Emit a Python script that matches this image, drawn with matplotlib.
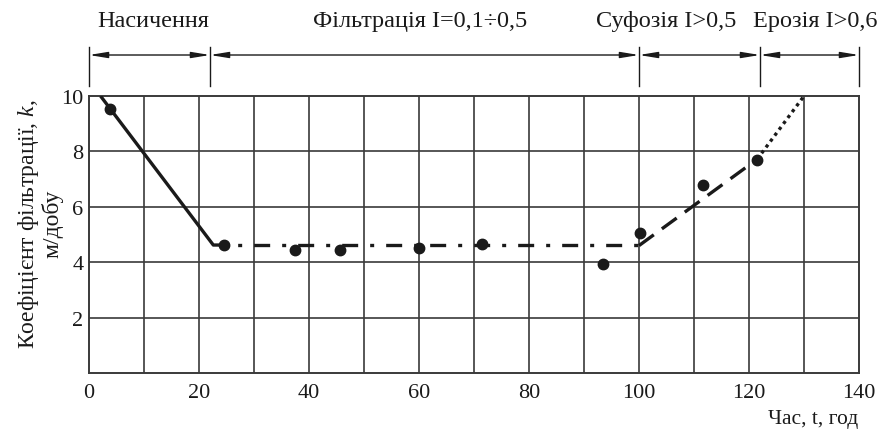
import matplotlib
matplotlib.use('Agg')
import matplotlib.pyplot as plt

plt.rcParams['font.family'] = ['Liberation Serif', 'DejaVu Serif']
plt.rcParams['mathtext.fontset'] = 'custom'
plt.rcParams['mathtext.it'] = 'Liberation Serif:italic'
plt.rcParams['mathtext.rm'] = 'Liberation Serif'

# data
sat_x = [2.1, 22.6, 24.4]
sat_y = [10.0, 4.62, 4.62]
filt_x = [24.4, 100.0]
filt_y = [4.62, 4.62]
suf_x = [100.0, 121.5]
suf_y = [4.6, 7.72]
ero_x = [121.5, 130.0]
ero_y = [7.72, 10.0]

pts_x = [3.9, 24.5, 37.5, 45.7, 60.0, 71.4, 93.4, 100.1, 111.7, 121.5]
pts_y = [9.52, 4.63, 4.45, 4.45, 4.5, 4.65, 3.93, 5.05, 6.78, 7.69]

stage_bounds = [0, 22, 100, 122, 140]
stage_labels = ['Насичення', 'Фільтрація I=0,1÷0,5', 'Суфозія I>0,5', 'Ерозія I>0,6']
stage_label_x = [11.6, 60.2, 105.0, 132.0]

fig = plt.figure(figsize=(8.82, 4.35), dpi=100)
ax = fig.add_axes([89/882, 1 - 374/435, 770/882, 277/435])

grid_c = '#3a3a3a'
for x in range(10, 140, 10):
    ax.axvline(x, color=grid_c, lw=1.2, zorder=1)
for y in range(2, 10, 2):
    ax.axhline(y, color=grid_c, lw=1.2, zorder=1)
for s in ax.spines.values():
    s.set_color(grid_c)
    s.set_linewidth(1.4)

lc = '#1a1a1a'
ax.plot(sat_x, sat_y, color=lc, lw=2.4, solid_capstyle='butt', zorder=3)
ax.plot(filt_x, filt_y, color=lc, lw=2.4, linestyle=(4.0, (4.8, 3.6, 1.2, 3.6)), zorder=3)
ax.plot(suf_x, suf_y, color=lc, lw=2.4, linestyle=(0, (5.5, 3.0)), zorder=3)
ax.plot(ero_x, ero_y, color=lc, lw=2.4, linestyle=(0, (1.0, 1.2)), zorder=3)
ax.plot(pts_x, pts_y, 'o', color=lc, ms=7.5, zorder=4)

ax.set_xlim(0, 140)
ax.set_ylim(0, 10)
ax.set_xticks(range(0, 141, 20))
ax.set_yticks(range(2, 11, 2))
ax.tick_params(length=0, labelsize=16, colors='#1a1a1a')
ax.tick_params(axis='x', pad=7)
ax.tick_params(axis='y', pad=4)

# stage markers above the plot
trans = ax.get_xaxis_transform()
for b in stage_bounds:
    ax.plot([b, b], [1.036, 1.177], color=lc, lw=1.0, transform=trans, clip_on=False)
for i in range(len(stage_labels)):
    ax.annotate('', xy=(stage_bounds[i], 1.148), xytext=(stage_bounds[i + 1], 1.148),
                xycoords=trans, textcoords=trans,
                arrowprops=dict(arrowstyle='<|-|>,head_length=1.1,head_width=0.18',
                                color=lc, lw=1.0, shrinkA=0, shrinkB=0))
    ax.text(stage_label_x[i], 1.272, stage_labels[i], transform=trans,
            ha='center', va='center', fontsize=17.5, color='#1a1a1a')

fig.text(40/882, 1 - 224/435, 'Коефіцієнт фільтрації, $k$,\nм/добу', rotation=90,
         ha='center', va='center', multialignment='center', fontsize=17,
         color='#1a1a1a', linespacing=1.05)
fig.text(858/882, 1 - 420/435, 'Час, t, год', ha='right', va='center',
         fontsize=15.5, color='#1a1a1a')

plt.savefig('out.png', dpi=100)
